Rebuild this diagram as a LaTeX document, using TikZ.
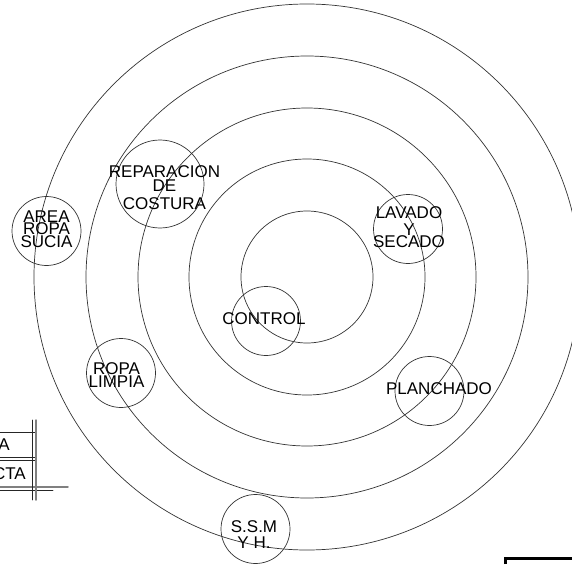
\documentclass[tikz,border=0pt]{standalone}
\usepackage{fontspec}
\setmainfont{Liberation Sans}
\tikzset{
  ring/.style={line width=0.7pt,draw=black!80},
  room/.style={circle,draw=black!80,line width=0.7pt,inner sep=0pt,minimum size=#1},
  tag/.style={inner sep=0pt,align=center,text=black,font=\fontsize{17pt}{#1}\selectfont},
  tag/.default=12.5pt,
  grid line/.style={line width=0.7pt,draw=black!85},
  grey line/.style={line width=1.5pt,draw=black!50}
}
\begin{document}
\begin{tikzpicture}[x=1pt,y=-1pt,line cap=round,line join=round]
\useasboundingbox (0,0) rectangle (572,564);
\clip (0,0) rectangle (572,564);
\coordinate (center) at (307,277);
\draw [ring] (center) circle (66);
\draw [ring] (center) circle (118);
\draw [ring] (center) circle (169);
\draw [ring] (center) circle (221);
\draw [ring] (center) circle (273);
\node [room=88pt] (reparacion) at (160,184) {};
\node [room=69pt] (sucia) at (46.5,231) {};
\node [room=69pt] (lavado) at (408,229) {};
\node [room=69pt] (control) at (266,321) {};
\node [room=69pt] (limpia) at (121,373) {};
\node [room=69pt] (planchado) at (429.5,391) {};
\node [room=69pt] (ssm) at (255.5,529) {};
\node [tag=14pt] (reparacion text) at (164.5,187.5) {REPARACION\\DE\\[4pt]COSTURA};
\node [tag] (sucia text) at (46.5,229) {AREA\\ROPA\\SUCIA};
\node [tag=12pt] (lavado text) at (409,227.5) {LAVADO\\[5pt]Y\\SECADO};
\node [tag] (control text) at (264,319) {CONTROL};
\node [tag=10pt] (limpia text) at (116.5,375) {ROPA\\LIMPIA};
\node [tag] (planchado text) at (439,389) {PLANCHADO};
\node [tag=16pt] (ssm text) at (254,535) {S.S.M\\Y H.};
% cuadro del rincon izquierdo
\coordinate (a1) at (0,432);
\coordinate (a2) at (36,432);
\coordinate (b1) at (0,457);
\coordinate (b2) at (36,457);
\coordinate (b3) at (0,460);
\coordinate (b4) at (36,460);
\coordinate (c1) at (0,487);
\coordinate (c2) at (68,487);
\coordinate (d1) at (0,490);
\coordinate (d2) at (53,490);
\coordinate (e1) at (32,420);
\coordinate (e2) at (32,500);
\coordinate (f1) at (36,420);
\coordinate (f2) at (36,500);
\draw [grid line] (a1) -- (a2);
\draw [grid line] (b1) -- (b2);
\draw [grid line] (b3) -- (b4);
\draw [grey line] (c1) -- (c2);
\draw [grid line] (d1) -- (d2);
\draw [grid line] (e1) -- (e2);
\draw [grey line] (f1) -- (f2);
\node [tag,anchor=east] (tag a) at (10,445) {A};
\node [tag,anchor=east] (tag cta) at (26,474) {CTA};
% marco del rincon derecho
\coordinate (g1) at (505,564);
\coordinate (g2) at (505,558.5);
\coordinate (g3) at (572,558.5);
\draw [line width=3pt,line cap=butt,line join=miter] (g1) -- (g2) -- (g3);
\end{tikzpicture}
\end{document}
